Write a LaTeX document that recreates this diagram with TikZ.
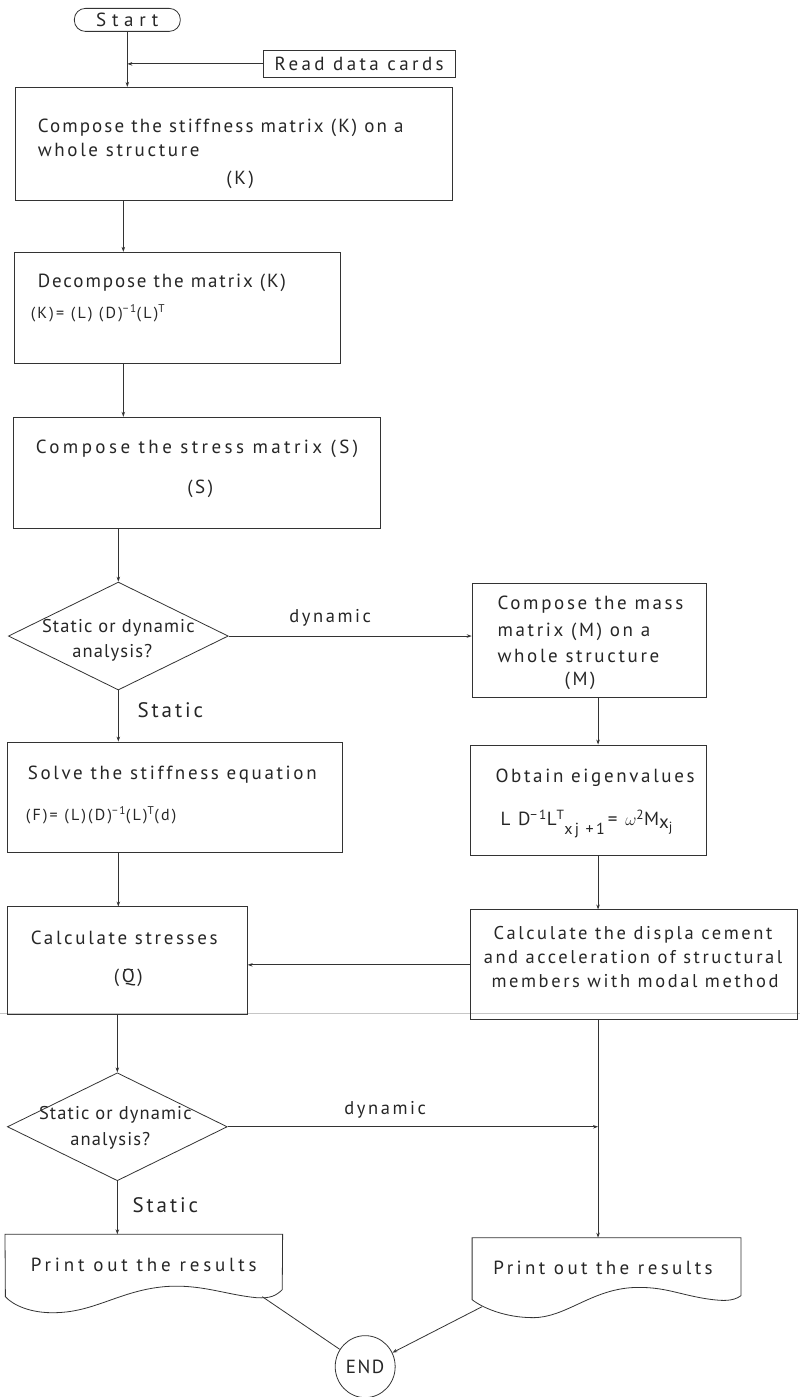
\documentclass[tikz,border=0pt]{standalone}
\usepackage{fontspec}
\setmainfont{PT Sans}[LetterSpace=14]
\usetikzlibrary{shapes.geometric,arrows.meta}
\newcommand\bigtxt{\fontsize{19}{22}\selectfont}
\newcommand\midtxt{\fontsize{18.5}{21}\selectfont}
\newcommand\eqtxt{\fontsize{16}{18}\selectfont}
\newcommand\stattxt{\fontsize{21}{24}\selectfont}
\begin{document}
\begin{tikzpicture}[x=1pt,y=-1pt,
  every path/.style={line width=0.8pt, draw=black!80},
  >={Stealth[length=5pt,width=3.5pt]},
  box/.style={draw=black!80, rectangle, inner sep=0pt},
  dia/.style={draw=black!80, diamond, inner sep=0pt, minimum width=220pt, minimum height=108pt},
  lab/.style={inner sep=0pt, anchor=mid west, font=\bigtxt, text=black!85},
  labc/.style={inner sep=0pt, anchor=mid, font=\bigtxt, text=black!85},
  labs/.style={inner sep=0pt, anchor=mid, font=\midtxt, text=black!85},
  dtxt/.style={inner sep=0pt, anchor=mid, font=\midtxt\addfontfeature{LetterSpace=6}, text=black!85},
  stat/.style={inner sep=0pt, anchor=mid, font=\stattxt, text=black!85},
  eq/.style={inner sep=0pt, anchor=mid west, font=\eqtxt, text=black!85}]
\useasboundingbox (0,0) rectangle (800,1397);
\fill[white] (0,0) rectangle (800,1397);

% scan line
\draw[gray!45, line width=0.6pt] (0,1013) -- (800,1013);

% column guides
\coordinate (xa) at (123,0);
\coordinate (xb) at (118,0);
\coordinate (xr) at (598,0);

% start and read
\node[box, rounded corners=11pt, minimum width=106pt, minimum height=23pt, font=\bigtxt\addfontfeature{LetterSpace=30}, text=black!85] (start) at (127,19.5) {Start};
\node[box, minimum width=192pt, minimum height=27pt, font=\bigtxt\addfontfeature{LetterSpace=18}, text=black!85] (rd) at (359,63.5) {Read data cards};

% boxes
\node[box, minimum width=437pt, minimum height=113pt] (b1) at (233.5,143.5) {};
\node[box, minimum width=326pt, minimum height=111pt] (b2) at (177,307.5) {};
\node[box, minimum width=367pt, minimum height=111pt] (b3) at (196.5,472.5) {};
\node[dia] (d1) at (118,636) {};
\node[box, minimum width=234pt, minimum height=114pt] (b4) at (589,640) {};
\node[box, minimum width=335pt, minimum height=110pt] (b5) at (174.5,797) {};
\node[box, minimum width=236pt, minimum height=110pt] (b6) at (588,800) {};
\node[box, minimum width=240pt, minimum height=108pt] (b7) at (127,961) {};
\node[box, minimum width=327pt, minimum height=110pt] (b8) at (633.5,965) {};
\node[dia] (d2) at (117,1127) {};
\node[inner sep=0pt, minimum width=277pt, minimum height=60pt, font=\bigtxt\addfontfeature{LetterSpace=20}, text=black!85] (p1) at (143.5,1265) {Print out the results};
\node[inner sep=0pt, minimum width=269pt, minimum height=60pt, font=\bigtxt\addfontfeature{LetterSpace=18}, text=black!85] (p2) at (603,1268) {Print out the results};
\node[draw=black!80, ellipse, inner sep=0pt, minimum width=60pt, minimum height=62pt, font=\bigtxt\addfontfeature{LetterSpace=8}, text=black!85] (end) at (365,1367) {END};

% document outlines
\draw (p1.north west) -- (p1.north east) -- (282,1290)
  .. controls (276,1296) and (270,1299) .. (256,1298)
  .. controls (225,1295) and (200,1284) .. (164,1287)
  .. controls (120,1291) and (95,1312) .. (56,1313)
  .. controls (30,1314) and (12,1305) .. (5,1297) -- cycle;
\draw (472,1238) -- (741,1238) -- (741,1296)
  .. controls (733,1302) and (722,1301) .. (713,1300)
  .. controls (680,1296) and (665,1286) .. (631,1288)
  .. controls (590,1291) and (565,1318) .. (533,1318)
  .. controls (505,1318) and (482,1308) .. (472,1300) -- cycle;
\coordinate (w1) at (262,1297);
\coordinate (w2) at (482,1307);

% texts
\node[lab, font=\bigtxt\addfontfeature{LetterSpace=11}] (t1a) at (37,130) {Compose the stiffness matrix (K) on a};
\node[lab] (t1b) at (37,154) {whole structure};
\node[labc] (t1c) at (240,182) {(K)};
\node[lab, font=\bigtxt\addfontfeature{LetterSpace=10}] (t2a) at (37,285) {Decompose the matrix (K)};
\node[eq] (t2b) at (30,316) {(K)= (L) (D)\textsuperscript{−1}(L)\textsuperscript{T}};
\node[lab, font=\bigtxt\addfontfeature{LetterSpace=18}] (t3a) at (35,451) {Compose the stress matrix (S)};
\node[labc] (t3b) at (200,491) {(S)};
\node[dtxt] (d1a) at (118,630) {Static or dynamic};
\node[dtxt] (d1b) at (112,655) {analysis?};
\node[lab] (t4a) at (497,607) {Compose the mass};
\node[lab] (t4b) at (497,634) {matrix (M) on a};
\node[lab] (t4c) at (497,660) {whole structure};
\node[labc] (t4d) at (580,683) {(M)};
\node[lab] (t5a) at (27,777) {Solve the stiffness equation};
\node[eq] (t5b) at (25,818) {(F)= (L)(D)\textsuperscript{−1}(L)\textsuperscript{T}(d)};
\node[lab] (t6a) at (495,780) {Obtain eigenvalues};
\node[lab] (t6b) at (500,823) {L D\textsuperscript{−1}L\textsuperscript{T}\raisebox{-9pt}{\eqtxt xj +1}\,= $\omega$\textsuperscript{2}M\raisebox{-3pt}{x\textsubscript{j}}};
\node[lab] (t7a) at (30,942) {Calculate stresses};
\node[labc] (t7b) at (128,980) {(Q)};
\draw[line width=0.9pt] ([xshift=-4.5pt,yshift=-1pt]t7b.north) -- ([xshift=4.5pt,yshift=-1pt]t7b.north);
\node[labs] (t8a) at (633,937) {Calculate the displa cement};
\node[labs] (t8b) at (633,961) {and acceleration of structural};
\node[labs] (t8c) at (635,985) {members with modal method};
\node[dtxt] (d2a) at (115,1117) {Static or dynamic};
\node[dtxt] (d2b) at (110,1143) {analysis?};

% connectors
\draw[->] (start) -- (start |- b1.north);
\draw[->] (rd) -- (rd -| start);
\draw[->] (xa |- b1.south) -- (xa |- b2.north);
\draw[->] (xa |- b2.south) -- (xa |- b3.north);
\draw[->] (d1.north |- b3.south) -- (d1.north);
\draw[->] (d1.east) -- (d1.east -| b4.west);
\node[labs] (dy1) at (330,620) {dynamic};
\draw[->] (d1.south) -- (d1.south |- b5.north);
\node[stat] (st1) at (170,715) {Static};
\draw[->] (xr |- b4.south) -- (xr |- b6.north);
\draw[->] (xb |- b5.south) -- (xb |- b7.north);
\draw[->] (xr |- b6.south) -- (xr |- b8.north);
\draw[->] (b8.west) -- (b8.west -| b7.east);
\draw[->] (d2.north |- b7.south) -- (d2.north);
\draw[->] (d2.east) -- (d2.east -| xr);
\node[labs] (dy2) at (385,1112) {dynamic};
\draw[->] (xr |- b8.south) -- (xr |- 0,1238);
\draw[->] (d2.south) -- (d2.south |- p1.north);
\node[stat] (st2) at (165,1210) {Static};
\draw (w1) -- (end);
\draw[->] (w2) -- (end);
\end{tikzpicture}
\end{document}
